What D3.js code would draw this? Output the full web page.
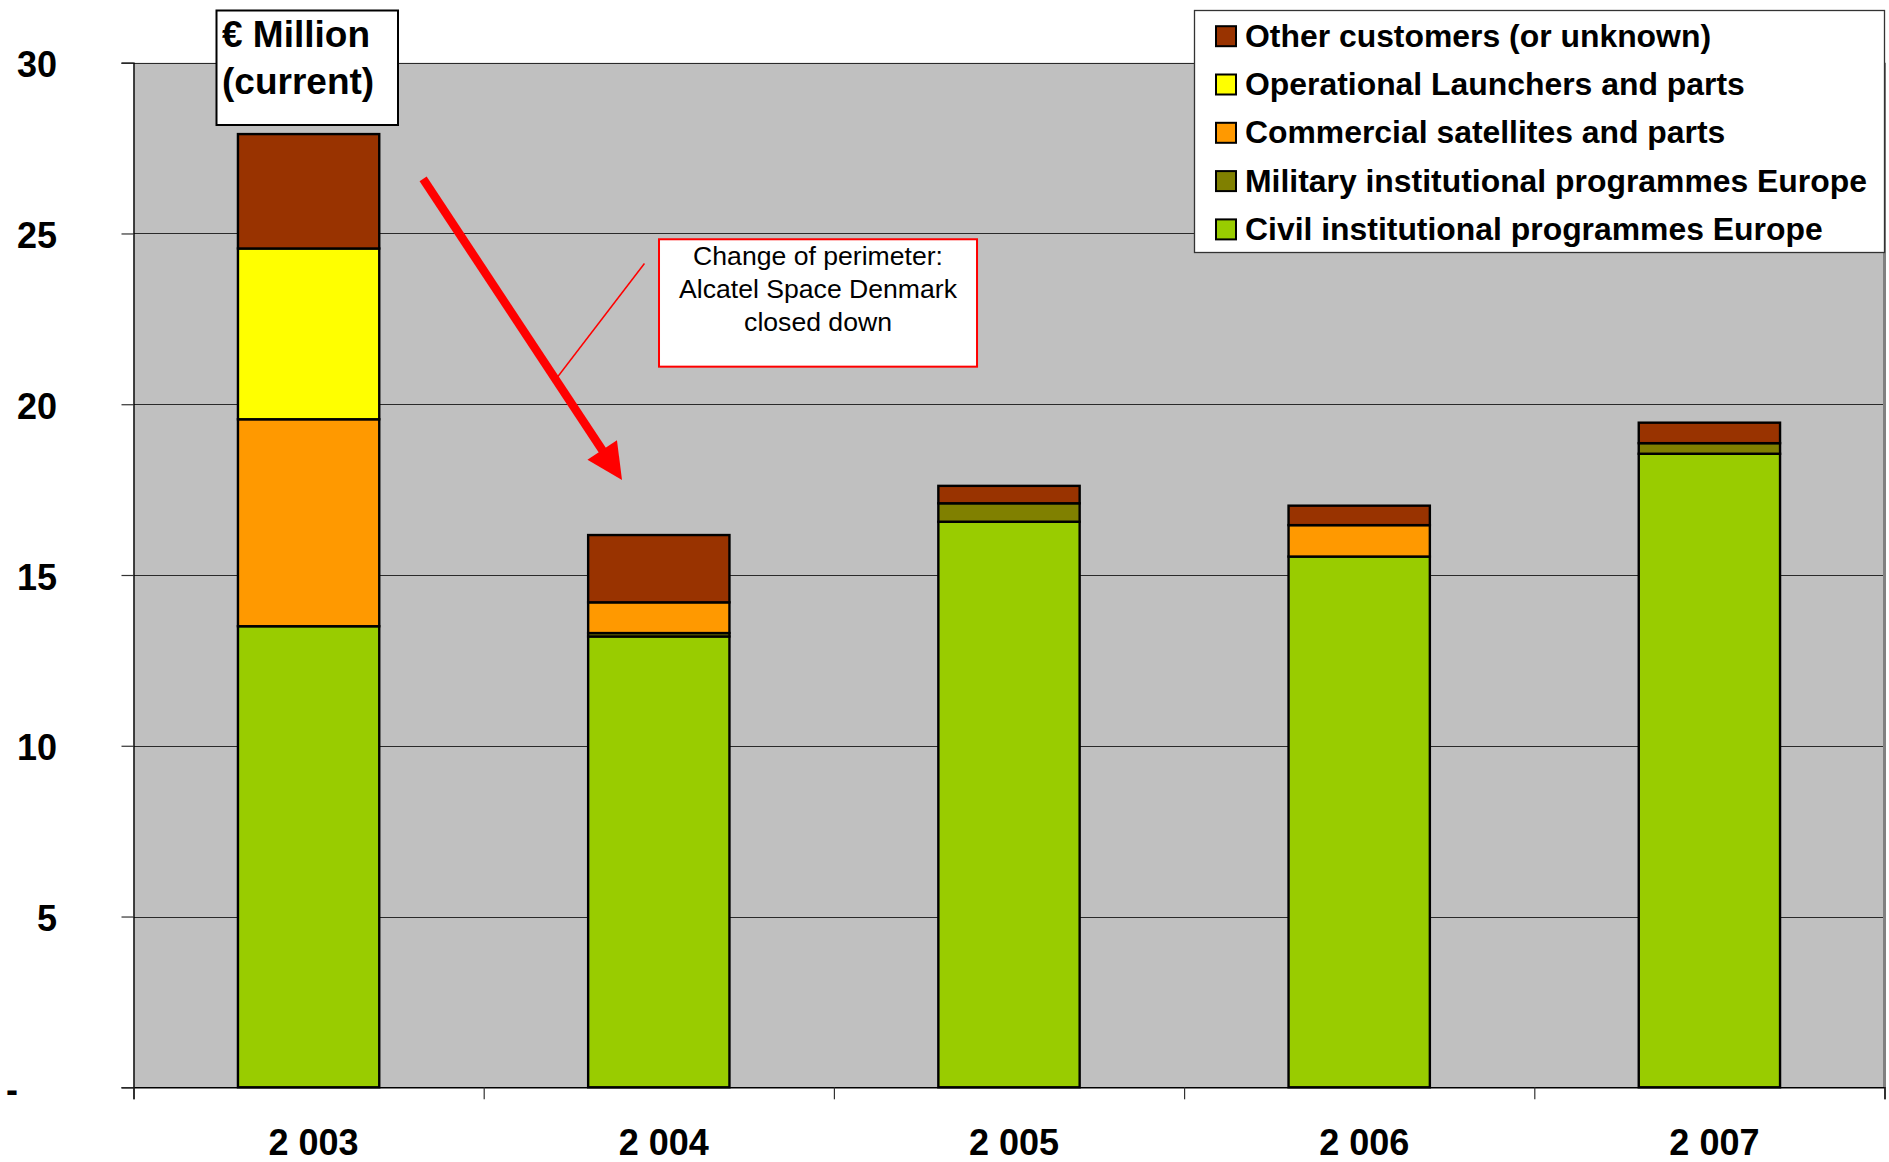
<!DOCTYPE html>
<html><head><meta charset="utf-8">
<script src="https://cdn.jsdelivr.net/npm/d3@7"></script>
<style>html,body{margin:0;padding:0;background:#fff;} svg{display:block;font-family:"Liberation Sans",Arial,sans-serif;}</style>
</head><body>
<svg id="chart" width="1889" height="1162"></svg>
<script>
// ---- data ----
const years = ["2 003", "2 004", "2 005", "2 006", "2 007"];
const civil      = [13.5, 13.2, 16.56, 15.54, 18.55];
const military   = [0,    0.1,  0.54,  0,     0.31];
const commercial = [6.06, 0.9,  0,     0.92,  0];
const launchers  = [5.0,  0,    0,     0,     0];
const other      = [3.35, 1.97, 0.51,  0.57,  0.6];
const seriesKeys = ["civil", "military", "commercial", "launchers", "other"];
const seriesNames = ["Civil institutional programmes Europe", "Military institutional programmes Europe",
  "Commercial satellites and parts", "Operational Launchers and parts", "Other customers (or unknown)"];
const seriesColors = ["#99CC00", "#808000", "#FF9900", "#FFFF00", "#993300"];
const yTicks = [0, 5, 10, 15, 20, 25, 30];
const unitLabel = ["€ Million", "(current)"];
const calloutLines = ["Change of perimeter:", "Alcatel Space Denmark", "closed down"];

// ---- layout ----
const svg = d3.select("#chart");
const X0 = 133.5, X1 = 1884.5, YT = 62.7, YB = 1087.3;
const x = d3.scaleBand().domain(years).range([X0, X1]).paddingInner(0.5965).paddingOuter(0.5965 / 2);
const xi = d3.scaleLinear().domain([0, years.length]).range([X0, X1]);
const y = d3.scaleLinear().domain([0, 30]).range([YB, YT]);

const table = years.map((yr, i) => ({year: yr, civil: civil[i], military: military[i],
  commercial: commercial[i], launchers: launchers[i], other: other[i]}));
const stacked = d3.stack().keys(seriesKeys)(table);
const color = d3.scaleOrdinal().domain(seriesKeys).range(seriesColors);

// plot background
svg.append("rect").attr("x", X0).attr("y", YT).attr("width", X1 - X0).attr("height", YB - YT).attr("fill", "#C0C0C0");

// gridlines
svg.append("g").selectAll("line").data(yTicks.filter(d => d > 0)).join("line")
  .attr("x1", X0).attr("x2", X1).attr("y1", d => Math.round(y(d)) + 0.5).attr("y2", d => Math.round(y(d)) + 0.5)
  .attr("stroke", "#2a2a2a").attr("stroke-width", 1.2);

// right border
svg.append("line").attr("x1", X1).attr("x2", X1).attr("y1", YT).attr("y2", YB)
  .attr("stroke", "#808080").attr("stroke-width", 3);

// bars
svg.append("g").selectAll("g").data(stacked).join("g")
  .attr("fill", d => color(d.key))
  .selectAll("rect").data(d => d.filter(s => s[1] - s[0] > 0)).join("rect")
  .attr("x", d => x(d.data.year)).attr("width", x.bandwidth())
  .attr("y", d => y(d[1])).attr("height", d => y(d[0]) - y(d[1]))
  .attr("stroke", "#000").attr("stroke-width", 2.4);

// y axis
const yAxis = svg.append("g").attr("transform", `translate(${X0},0)`)
  .call(d3.axisLeft(y).tickValues(yTicks).tickSize(12).tickPadding(64.5)
    .tickFormat(d => d === 0 ? "-" : d));
yAxis.select(".domain").attr("stroke", "#000").attr("stroke-width", 1.4);
yAxis.selectAll(".tick line").attr("stroke", "#333").attr("stroke-width", 1.2);
yAxis.selectAll(".tick text").attr("font-size", 36).attr("font-weight", "bold").attr("fill", "#000")
  .attr("font-family", "'Liberation Sans', Arial, sans-serif").attr("dy", "0.39em");
yAxis.selectAll(".tick text").filter(d => d === 0).attr("x", 12 - X0).attr("text-anchor", "middle");

// x axis: boundary ticks
const xAxis = svg.append("g").attr("transform", `translate(0,${YB})`)
  .call(d3.axisBottom(xi).tickValues(d3.range(years.length + 1)).tickSize(12).tickFormat(""));
xAxis.select(".domain").attr("stroke", "#000").attr("stroke-width", 1.6);
xAxis.selectAll(".tick line").attr("stroke", "#333").attr("stroke-width", 1.2);
// x labels
const xLab = svg.append("g").attr("transform", `translate(0,${YB})`)
  .call(d3.axisBottom(x).tickSize(0).tickPadding(0));
xLab.select(".domain").remove();
xLab.selectAll(".tick text").attr("y", 68).attr("dy", 0).attr("dx", 5)
  .attr("font-size", 36).attr("font-weight", "bold").attr("fill", "#000")
  .attr("font-family", "'Liberation Sans', Arial, sans-serif");

// arrow (data-space anchors)
const aS = [xi(0.827), y(26.6)], aT = [xi(1.395), y(17.78)];
const dx = aT[0] - aS[0], dy = aT[1] - aS[1], L = Math.hypot(dx, dy);
const ux = dx / L, uy = dy / L, px = -uy, py = ux;
const headLen = 36, headHalf = 17.7;
const base = [aT[0] - ux * headLen, aT[1] - uy * headLen];
svg.append("line").attr("x1", aS[0]).attr("y1", aS[1]).attr("x2", base[0] + ux * 2).attr("y2", base[1] + uy * 2)
  .attr("stroke", "#FF0000").attr("stroke-width", 8.5);
svg.append("polygon").attr("fill", "#FF0000")
  .attr("points", [aT, [base[0] + px * headHalf, base[1] + py * headHalf], [base[0] - px * headHalf, base[1] - py * headHalf]]
    .map(p => p.join(",")).join(" "));

// callout
svg.append("line").attr("x1", xi(1.459)).attr("y1", y(24.12)).attr("x2", xi(1.2065)).attr("y2", y(20.74))
  .attr("stroke", "#FF0000").attr("stroke-width", 1.5);
const cbx0 = xi(1.5006), cbx1 = xi(2.4087), cby0 = y(24.83), cby1 = y(21.10);
svg.append("rect").attr("x", cbx0).attr("y", cby0).attr("width", cbx1 - cbx0).attr("height", cby1 - cby0)
  .attr("fill", "#fff").attr("stroke", "#FF0000").attr("stroke-width", 2);
svg.append("g").selectAll("text").data(calloutLines).join("text")
  .attr("x", (cbx0 + cbx1) / 2).attr("y", (d, i) => cby0 + 25.4 + i * 33.2)
  .attr("text-anchor", "middle").attr("font-size", 26.6).attr("fill", "#000").text(d => d);

// unit box
svg.append("rect").attr("x", 216.5).attr("y", 10.5).attr("width", 181.5).attr("height", 114.5)
  .attr("fill", "#fff").attr("stroke", "#000").attr("stroke-width", 2);
svg.append("g").selectAll("text").data(unitLabel).join("text")
  .attr("x", 222).attr("y", (d, i) => 46.7 + i * 47.5)
  .attr("font-size", 37).attr("font-weight", "bold").attr("fill", "#000").text(d => d);

// legend
const lg = svg.append("g");
lg.append("rect").attr("x", 1194.5).attr("y", 10.5).attr("width", 690).attr("height", 242)
  .attr("fill", "#fff").attr("stroke", "#333").attr("stroke-width", 1.3);
const legendOrder = d3.range(seriesKeys.length).reverse();
const li = lg.selectAll("g.item").data(legendOrder).join("g").attr("class", "item")
  .attr("transform", (d, i) => `translate(1215,${46.7 + i * 48.3})`);
li.append("rect").attr("x", 1).attr("y", -20.5).attr("width", 20).attr("height", 20)
  .attr("fill", d => seriesColors[d]).attr("stroke", "#000").attr("stroke-width", 2);
li.append("text").attr("x", 30).attr("y", 0).attr("font-size", 31.9).attr("font-weight", "bold")
  .attr("fill", "#000").text(d => seriesNames[d]);
</script>
</body></html>
